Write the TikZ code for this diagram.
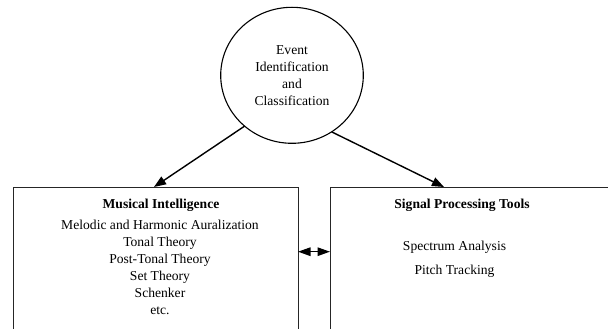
\documentclass[tikz,border=0pt]{standalone}
\usepackage{fontspec}
\setmainfont{Liberation Serif}
\usetikzlibrary{shapes.geometric,arrows.meta}
\begin{document}
\begin{tikzpicture}[x=1pt,y=-1pt,
  box/.style={draw=black!85, line width=1pt, rectangle, inner sep=0pt, outer sep=0pt, anchor=north west},
  txt/.style={font=\fontsize{13.6}{17}\selectfont, align=center, inner sep=0pt},
  arr/.style={line width=1.4pt, -{Triangle[length=12pt,width=9pt]}},
  darr/.style={line width=1.4pt, {Triangle[length=12.5pt,width=8.5pt]}-{Triangle[length=12.5pt,width=8.5pt]}}]
\useasboundingbox (0,0) rectangle (608,329);
\clip (0,0) rectangle (608,329);
\fill[white] (0,0) rectangle (608,329);
% event ellipse
\node[draw, line width=1.1pt, ellipse, minimum width=142.6pt, minimum height=136pt, inner sep=0pt, outer sep=0pt,
      font=\fontsize{13.6}{17}\selectfont, align=center] (ev) at (292,75.3)
  {Event\\Identification\\and\\Classification};
% boxes
\node[box, minimum width=285pt, minimum height=170pt] (mi) at (13,187) {};
\node[box, minimum width=300pt, minimum height=170pt] (sp) at (330,187) {};
% texts
\node[txt, font=\fontsize{13.6}{17}\bfseries] (mit) at (161,205) {Musical Intelligence};
\node[txt, anchor=north] (mil) at (160,219.5)
  {Melodic and Harmonic Auralization\\Tonal Theory\\Post-Tonal Theory\\Set Theory\\Schenker\\etc.};
\node[txt, font=\fontsize{13.6}{17}\bfseries] (spt) at (462,205.7) {Signal Processing Tools};
\node[txt, font=\fontsize{13.6}{24.7}\selectfont] (spl) at (454.5,259.3) {Spectrum Analysis\\Pitch Tracking};
% connectors
\draw[arr] (ev.227.6) -- ([xshift=-1.5pt]mi.north);
\draw[arr] (ev.305.9) -- ([xshift=114pt]sp.north west);
\draw[darr] ([yshift=-64.7pt]mi.north east) -- ([yshift=-64.7pt]sp.north west);
\end{tikzpicture}
\end{document}
